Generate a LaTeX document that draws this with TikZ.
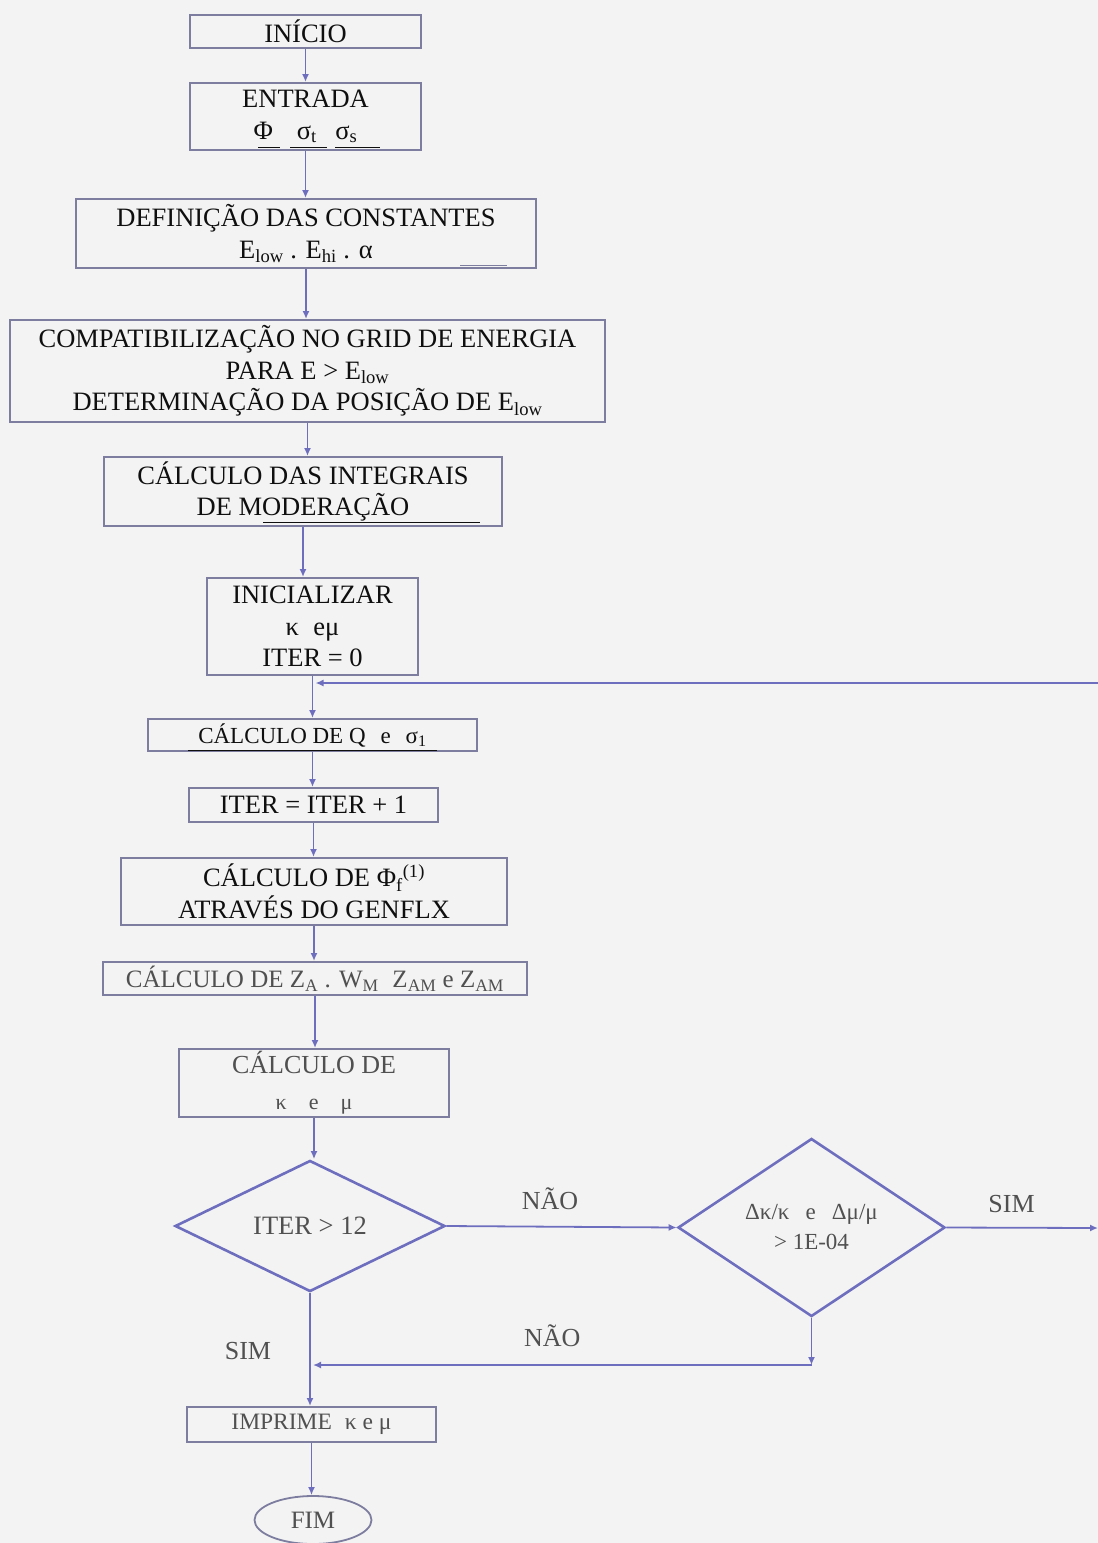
\documentclass[tikz,border=0pt]{standalone}
\usepackage{fontspec}
\setmainfont{Liberation Serif}
\usetikzlibrary{arrows.meta,shapes.geometric}
\definecolor{bgc}{RGB}{243,243,243}
\definecolor{lineblue}{RGB}{110,110,190}
\definecolor{boxedge}{RGB}{125,125,160}
\definecolor{txtdark}{RGB}{15,15,15}
\definecolor{txtgray}{RGB}{80,80,80}
\newcommand{\bigtxt}{\fontsize{26.5}{31.5}\selectfont}
\newcommand{\midtxt}{\fontsize{26}{36}\selectfont}
\newcommand{\smalltxt}{\fontsize{23}{30}\selectfont}
\begin{document}
\begin{tikzpicture}[x=1pt,y=-1pt,
  box/.style={draw=boxedge, line width=2pt, rectangle, inner sep=0pt, align=center, text=txtdark, font=\bigtxt},
  graybox/.style={box, text=txtgray},
  dia/.style={draw=lineblue, line width=2.6pt, diamond, inner sep=0pt, align=center, text=txtgray},
  arr/.style={draw=lineblue, line width=1.8pt, -{Latex[length=8pt,width=7pt]}},
  ln/.style={draw=lineblue, line width=1.8pt},
  lbl/.style={text=txtgray, font=\fontsize{26}{30}\selectfont, inner sep=0pt},
  ul/.style={draw=txtdark, line width=1pt}]
\fill[bgc] (0,0) rectangle (1098,1543);
\useasboundingbox (0,0) rectangle (1098,1543);

\node[box, minimum width=231pt, minimum height=33pt] (n1) at (305.5,31.5) {INÍCIO};
\node[box, minimum width=231pt, minimum height=67pt] (n2) at (305.5,116.5) {ENTRADA\\Φ\hspace{0.9em}σ\textsubscript{t}\hspace{0.7em}σ\textsubscript{s}};
\node[box, minimum width=460pt, minimum height=69pt] (n3) at (306,233.5) {DEFINIÇÃO DAS CONSTANTES\\E\textsubscript{low} . E\textsubscript{hi} . α};
\node[box, minimum width=595pt, minimum height=102pt] (n4) at (307.5,371) {COMPATIBILIZAÇÃO NO GRID DE ENERGIA\\PARA E > E\textsubscript{low}\\DETERMINAÇÃO DA POSIÇÃO DE E\textsubscript{low}};
\node[box, minimum width=398pt, minimum height=69pt] (n5) at (303,491.5) {CÁLCULO DAS INTEGRAIS\\DE MODERAÇÃO};
\node[box, minimum width=211pt, minimum height=97pt] (n6) at (312.5,626.5) {INICIALIZAR\\κ\hspace{0.3em} eμ\\ITER = 0};
\node[box, minimum width=329pt, minimum height=32pt, font=\fontsize{23}{28}\selectfont] (n7) at (312.5,735) {CÁLCULO DE Q\hspace{0.4em} e\hspace{0.4em} σ\textsubscript{1}};
\node[box, minimum width=249pt, minimum height=34pt] (n8) at (313.5,805) {ITER = ITER + 1};
\node[box, minimum width=386pt, minimum height=67pt] (n9) at (314,891.5) {CÁLCULO DE Φ\textsubscript{f}\textsuperscript{(1)}\\ATRAVÉS DO GENFLX};
\node[graybox, minimum width=424pt, minimum height=33pt, font=\fontsize{25}{28}\selectfont] (n10) at (315,978.5) {CÁLCULO DE Z\textsubscript{A} . W\textsubscript{M}\hspace{0.3em} Z\textsubscript{AM} e Z\textsubscript{AM}};
\node[graybox, minimum width=270pt, minimum height=68pt, font=\midtxt] (n11) at (314,1083) {CÁLCULO DE\\\fontsize{22}{36}\selectfont κ\hspace{1em}e\hspace{1em}μ};
\node[dia, minimum width=270pt, minimum height=122pt, font=\fontsize{26.5}{30}\selectfont] (d1) at (310,1226) {ITER > 12};
\node[dia, minimum width=267pt, minimum height=169pt, font=\smalltxt] (d2) at (811.5,1227.5) {Δκ/κ\hspace{0.7em}e\hspace{0.7em}Δμ/μ\\> 1E-04};
\node[graybox, minimum width=249pt, minimum height=35pt, font=\fontsize{23.5}{28}\selectfont] (n12) at (311.5,1424.5) {IMPRIME\hspace{0.3em} κ e μ};
\node[draw=boxedge, line width=1.8pt, ellipse, minimum width=117pt, minimum height=48pt, inner sep=0pt, text=txtgray, font=\fontsize{25}{28}\selectfont] (n13) at (313,1520) {FIM};

% underline artifacts
\draw[ul] (258,147) -- (280,147) (290,147) -- (327,147) (335,147) -- (380,147);
\draw[ul, draw=boxedge] (460,265) -- (507,265);
\draw[ul] (263,522) -- (480,522);
\draw[ul] (188,750) -- (437,750);

\coordinate (J) at (312.5,683);
\coordinate (R1) at (1098,683);
\coordinate (R2) at (1098,1228);
\coordinate (K2) at (811.5,1365);
\coordinate (K) at (313,1365);

\draw[arr] (n1.south) -- (n1.south |- n2.north);
\draw[arr] (n2.south) -- (n2.south |- n3.north);
\draw[arr] (n3.south) -- (n3.south |- n4.north);
\draw[arr] (n4.south) -- (n4.south |- n5.north);
\draw[arr] (n5.south) -- (n5.south |- n6.north);
\draw[ln] (n6.south) -- (n6.south |- J);
\draw[arr] (R1) -- ([xshift=3pt]J);
\draw[arr] (J) -- (J |- n7.north);
\draw[arr] (n7.south) -- (n7.south |- n8.north);
\draw[arr] (n8.south) -- (n8.south |- n9.north);
\draw[arr] (n9.south) -- (n9.south |- n10.north);
\draw[arr] (n10.south) -- (n10.south |- n11.north);
\draw[arr] (n11.south) -- (n11.south |- d1.north);
\draw[arr] (d1.east) -- (d2.west) node[lbl, pos=0.45, above=16pt] {NÃO};
\draw[arr] (d2.east) -- (R2) node[lbl, pos=0.43, above=14pt] {SIM};
\draw[arr] (d2.south) -- (K2);
\draw[arr] (K2) -- (K) node[lbl, pos=0.52, above=17pt] {NÃO};
\draw[arr] (d1.south) -- (d1.south |- n12.north);
\node[lbl] (simlbl) at (248,1351) {SIM};
\draw[arr] (n12.south) -- (n12.south |- n13.north);
\end{tikzpicture}
\end{document}
